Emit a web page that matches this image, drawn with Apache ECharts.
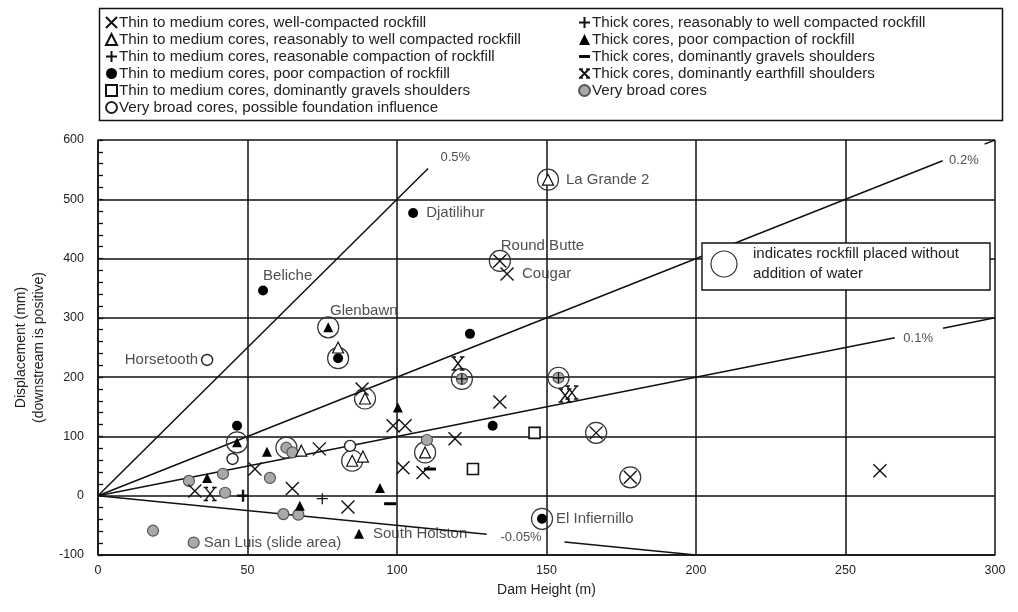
<!DOCTYPE html>
<html>
<head>
<meta charset="utf-8">
<script src="https://cdn.jsdelivr.net/npm/echarts@6/dist/echarts.min.js"></script>
<style>
  html, body { margin: 0; padding: 0; background: #fff; }
  #chart { width: 1018px; height: 612px; }
</style>
</head>
<body>
<div id="chart"></div>
<script>
// Crest displacement of rockfill dams vs dam height, grouped by core type
const xTicks = [0, 50, 100, 150, 200, 250, 300];
const yTicks = [-100, 0, 100, 200, 300, 400, 500, 600];

const thinWellCompacted = [
  [88.3, 180], [98.7, 118], [102.7, 118], [119.4, 96], [134.4, 158], [102, 47],
  [108.7, 39], [74, 79], [65, 12], [83.6, -19], [261.5, 42], [136.8, 374],
  [134.4, 396], [166.6, 106], [178, 31], [52.5, 45], [32.4, 8]
];
const thinReasonablyWell = [
  [80.3, 250], [150.5, 533], [89.3, 164], [85, 59], [88.6, 66], [68, 76], [109.4, 73]
];
const thinReasonableCompaction = [[48.5, 0]];
const thinPoorCompaction = [
  [55.2, 346], [105.4, 477], [124.4, 273], [80.3, 232], [46.5, 118], [132, 118], [148.5, -39]
];
const thinGravelShoulders = [[146, 106], [125.4, 45]];
const broadFoundation = [[36.5, 229], [45, 62], [84.3, 84]];
const thickReasonablyWell = [[75, -5], [121.7, 197], [154, 199]];
const thickPoorCompaction = [
  [100.3, 149], [94.3, 13], [56.5, 74], [36.5, 30], [87.3, -64], [67.5, -17], [77, 284], [46.5, 90]
];
const thickGravelShoulders = [[111, 45], [97.7, -13.5]];
const thickEarthfillShoulders = [[120.4, 223], [156.2, 169], [158.5, 174], [37.5, 3]];
const veryBroadCores = [
  [18.4, -59], [32, -79], [30.4, 25], [41.8, 37], [42.5, 5], [57.5, 30], [63, 81],
  [65, 73], [62, -31], [67, -32], [110, 94], [121.7, 197], [154, 199]
];
// dams where the rockfill was placed without addition of water
const dryPlaced = [
  [150.5, 533], [134.4, 396], [77, 284], [80.3, 232], [89.3, 164], [46.5, 90], [63, 81],
  [85, 59], [109.4, 73], [166.6, 106], [178, 31], [148.5, -39], [121.7, 197], [154, 199]
];

// named dams
const damNames = [
  { name: 'La Grande 2', at: [150.5, 533], pos: 'right', gap: 18 },
  { name: 'Djatilihur', at: [105.4, 477], pos: 'right', gap: 13 },
  { name: 'Round Butte', at: [134.7, 421], pos: 'right', gap: 0 },
  { name: 'Cougar', at: [136.8, 374], pos: 'right', gap: 15 },
  { name: 'Beliche', at: [55.2, 371], pos: 'right', gap: 0 },
  { name: 'Glenbawn', at: [77.6, 312], pos: 'right', gap: 0 },
  { name: 'Horsetooth', at: [36.5, 229], pos: 'left', gap: 9 },
  { name: 'El Infiernillo', at: [148.5, -39], pos: 'right', gap: 14 },
  { name: 'San Luis (slide area)', at: [32, -79], pos: 'right', gap: 10 },
  { name: 'South Holston', at: [87.3, -64], pos: 'right', gap: 14 }
];

// strain reference lines: segments leave a gap for their labels
const strainLines = [
  { label: '0.5%', segs: [[[0, 0], [110.4, 552]]], at: [119.5, 570] },
  { label: '0.2%', segs: [[[0, 0], [282.5, 565]], [[296.5, 593], [300, 600]]], at: [289.6, 566] },
  { label: '0.1%', segs: [[[0, 0], [266.5, 266.5]], [[282.6, 282.6], [300, 300]]], at: [274.3, 265] },
  { label: '-0.05%', segs: [[[0, 0], [130, -65]], [[156, -78], [200, -100]]], at: [141.5, -71] }
];

const legendLeft = [
  'Thin to medium cores, well-compacted rockfill',
  'Thin to medium cores, reasonably to well compacted rockfill',
  'Thin to medium cores, reasonable compaction of rockfill',
  'Thin to medium cores, poor compaction of rockfill',
  'Thin to medium cores, dominantly gravels shoulders',
  'Very broad cores, possible foundation influence'
];
const legendRight = [
  'Thick cores, reasonably to well compacted rockfill',
  'Thick cores, poor compaction of rockfill',
  'Thick cores, dominantly gravels shoulders',
  'Thick cores, dominantly earthfill shoulders',
  'Very broad cores'
];

const FONT = '"Liberation Sans", Arial, sans-serif';
const CROSS = 'path://M0,0L10,10M10,0L0,10';
const PLUS = 'path://M5,0L5,10M0,5L10,5';
const DASH = 'path://M0,0L10,0L10,2.6L0,2.6Z';
const SERIF_X = 'path://M0,0L10,10M10,0L0,10M-1.5,0L3,0M7,0L11.5,0M-1.5,10L3,10M7,10L11.5,10';

function strokeSeries(name, data, symbol, size, width) {
  return {
    name, type: 'scatter', data, symbol, symbolSize: size, z: 5,
    itemStyle: { color: 'rgba(0,0,0,0)', borderColor: '#111', borderWidth: width, opacity: 1 }
  };
}
function fillSeries(name, data, symbol, size, fill, border, bw) {
  return {
    name, type: 'scatter', data, symbol, symbolSize: size, z: 5,
    itemStyle: { color: fill, borderColor: border, borderWidth: bw, opacity: 1 }
  };
}

const series = [
  fillSeries(legendRight[4], veryBroadCores, 'circle', 11, '#a9a9a9', '#555', 1.2),
  strokeSeries(legendLeft[0], thinWellCompacted, CROSS, 13, 1.4),
  fillSeries(legendLeft[1], thinReasonablyWell, 'triangle', 11, '#fff', '#111', 1.2),
  strokeSeries(legendLeft[2], thinReasonableCompaction, PLUS, 12, 2.4),
  fillSeries(legendLeft[3], thinPoorCompaction, 'circle', 10, '#000', '#000', 0),
  fillSeries(legendLeft[4], thinGravelShoulders, 'rect', 11, '#fff', '#111', 1.6),
  fillSeries(legendLeft[5], broadFoundation, 'circle', 11, '#fff', '#222', 1.4),
  strokeSeries(legendRight[0], thickReasonablyWell, PLUS, 11, 1.3),
  fillSeries(legendRight[1], thickPoorCompaction, 'triangle', 10, '#000', '#000', 0),
  fillSeries(legendRight[2], thickGravelShoulders, DASH, [12, 3], '#000', '#000', 0),
  strokeSeries(legendRight[3], thickEarthfillShoulders, SERIF_X, 13, 1.4),
  {
    name: 'dry placed', type: 'scatter', data: dryPlaced, symbol: 'circle', symbolSize: 21, z: 4,
    itemStyle: { color: 'rgba(0,0,0,0)', borderColor: '#333', borderWidth: 1.2, opacity: 1 }
  },
  {
    name: 'dam names', type: 'scatter', z: 6, symbolSize: 0, silent: true,
    data: damNames.map(d => ({
      value: d.at,
      label: { show: true, formatter: d.name, position: d.pos, distance: d.gap }
    })),
    label: { fontFamily: FONT, fontSize: 15, color: '#222' }
  }
];

strainLines.forEach(s => {
  s.segs.forEach(seg => {
    series.push({
      type: 'line', data: seg, symbol: 'none', z: 3, silent: true,
      lineStyle: { color: '#111', width: 1.5 }
    });
  });
  series.push({
    type: 'scatter', data: [{ value: s.at }], symbolSize: 0, z: 6, silent: true,
    label: { show: true, position: 'inside', formatter: s.label, fontFamily: FONT, fontSize: 13, color: '#222' }
  });
});

const legendText = { fontFamily: FONT, fontSize: 15.2, color: '#222', lineHeight: 15, padding: [0, 0, 0, -3] };

const chart = echarts.init(document.getElementById('chart'), null, { renderer: 'canvas' });
chart.setOption({
  animation: false,
  backgroundColor: '#fff',
  textStyle: { fontFamily: FONT },
  grid: { left: 98, right: 23, top: 140, bottom: 57 },
  legend: [
    {
      data: legendLeft, orient: 'vertical', left: 100, top: 10, itemGap: 2,
      itemWidth: 11, itemHeight: 11, selectedMode: false, textStyle: legendText
    },
    {
      data: legendRight, orient: 'vertical', left: 573, top: 10, itemGap: 2,
      itemWidth: 11, itemHeight: 11, selectedMode: false, textStyle: legendText
    }
  ],
  graphic: [
    {
      type: 'rect', left: 97, top: 6, z: 100,
      shape: { width: 903, height: 112 },
      style: { fill: 'none', stroke: '#111', lineWidth: 1.5 }
    },
    {
      type: 'rect', z: 100, x: 702, y: 243,
      shape: { x: 0, y: 0, width: 288, height: 47 },
      style: { fill: '#fff', stroke: '#111', lineWidth: 1.4 }
    },
    {
      type: 'circle', z: 101, x: 724, y: 264,
      shape: { cx: 0, cy: 0, r: 13 },
      style: { fill: '#fff', stroke: '#333', lineWidth: 1.2 }
    },
    {
      type: 'text', z: 101, x: 753, y: 244,
      style: { text: 'indicates rockfill placed without\naddition of water', font: '15px ' + FONT, fill: '#222', lineHeight: 20 }
    }
  ],
  xAxis: {
    type: 'value', min: 0, max: 300, interval: 50,
    name: 'Dam Height (m)', nameLocation: 'middle', nameGap: 28,
    nameTextStyle: { fontFamily: FONT, fontSize: 14, color: '#222' },
    axisLine: { onZero: false, lineStyle: { color: '#111', width: 1.5 } },
    axisTick: { show: false },
    axisLabel: { fontFamily: FONT, fontSize: 12.5, color: '#222', margin: 9,
      formatter: v => xTicks.includes(v) ? String(v) : '' },
    splitLine: { lineStyle: { color: '#111', width: 1.5 } }
  },
  yAxis: {
    type: 'value', min: -100, max: 600, interval: 100,
    name: 'Displacement (mm)\n(downstream is positive)', nameLocation: 'middle', nameGap: 50, nameRotate: 90,
    nameTextStyle: { fontFamily: FONT, fontSize: 14, color: '#222', lineHeight: 18 },
    axisLine: { onZero: false, lineStyle: { color: '#111', width: 1.5 } },
    axisTick: { show: true, inside: true, length: 5, lineStyle: { color: '#111', width: 1.3 } },
    minorTick: { show: true, splitNumber: 5, length: 5, lineStyle: { color: '#111', width: 1.3 } },
    axisLabel: { fontFamily: FONT, fontSize: 12.5, color: '#222', margin: 14,
      formatter: v => yTicks.includes(v) ? String(v) : '' },
    splitLine: { lineStyle: { color: '#111', width: 1.5 } }
  },
  series
});
</script>
</body>
</html>
